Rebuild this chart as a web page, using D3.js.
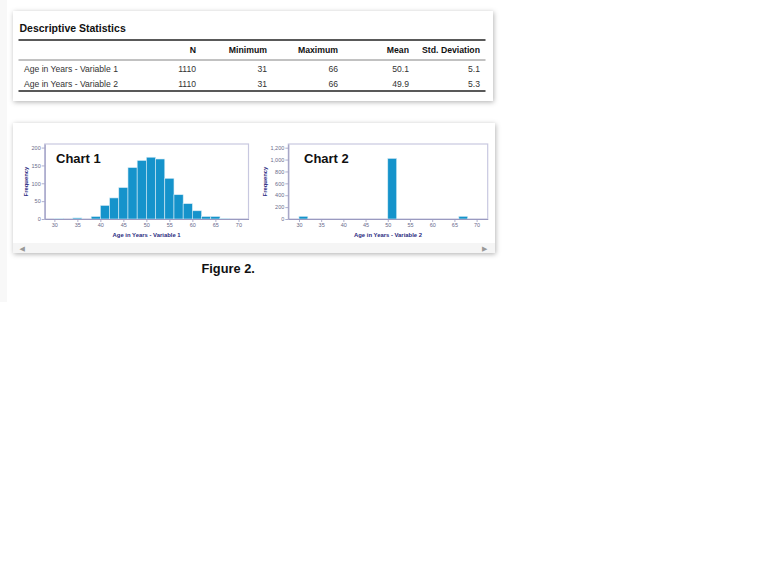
<!DOCTYPE html>
<html><head><meta charset="utf-8">
<script src="https://cdn.jsdelivr.net/npm/d3@7"></script>
<style>
html,body{margin:0;padding:0;background:#fff;}
svg{display:block;font-family:"Liberation Sans",Arial,sans-serif;}
</style></head>
<body>
<svg id="c" width="768" height="561"></svg>
<script>
// ---- Data ----
const tableTitle = "Descriptive Statistics";
const tableColumns = ["N", "Minimum", "Maximum", "Mean", "Std. Deviation"];
const tableRowLabels = ["Age in Years - Variable 1", "Age in Years - Variable 2"];
const tableN = ["1110", "1110"];
const tableMin = ["31", "31"];
const tableMax = ["66", "66"];
const tableMean = ["50.1", "49.9"];
const tableSD = ["5.1", "5.3"];

const binWidth = 2;
const bins1 = [30, 32, 34, 36, 38, 40, 42, 44, 46, 48, 50, 52, 54, 56, 58, 60, 62, 64, 66];
const counts1 = [1, 0, 3, 0, 7, 38, 59, 88, 144, 164, 173, 168, 114, 68, 43, 23, 7, 7, 2];
const bins2 = [30, 50, 66];
const counts2 = [45, 1020, 45];

const xTicks = [30, 35, 40, 45, 50, 55, 60, 65, 70];
const yTicks1 = [0, 50, 100, 150, 200];
const yTicks2 = [0, 200, 400, 600, 800, 1000, 1200];

const chartTitles = ["Chart 1", "Chart 2"];
const xTitles = ["Age in Years - Variable 1", "Age in Years - Variable 2"];
const yTitle = "Frequency";
const figureCaption = "Figure 2.";

// ---- Drawing ----
const svg = d3.select("#c");
const defs = svg.append("defs");
const f = defs.append("filter").attr("id", "sh").attr("x", "-5%").attr("y", "-15%").attr("width", "110%").attr("height", "135%");
f.append("feDropShadow").attr("dx", 0.8).attr("dy", 1.2).attr("stdDeviation", 2.4).attr("flood-color", "#000").attr("flood-opacity", 0.3);

// faint left edge
svg.append("rect").attr("x", 0).attr("y", 0).attr("width", 7).attr("height", 302).attr("fill", "#f8f8f8");

// Table card
svg.append("rect").attr("x", 13).attr("y", 11).attr("width", 480).attr("height", 90)
  .attr("fill", "#fff").attr("filter", "url(#sh)");

svg.append("text").attr("x", 19.5).attr("y", 32).attr("font-size", 10.5).attr("font-weight", "bold")
  .attr("fill", "#111").text(tableTitle);

svg.append("line").attr("x1", 18.5).attr("x2", 485.5).attr("y1", 40).attr("y2", 40).attr("stroke", "#222").attr("stroke-width", 1.4);
svg.append("line").attr("x1", 18.5).attr("x2", 485.5).attr("y1", 60).attr("y2", 60).attr("stroke", "#777").attr("stroke-width", 0.9);
svg.append("line").attr("x1", 18.5).attr("x2", 485.5).attr("y1", 91).attr("y2", 91).attr("stroke", "#222").attr("stroke-width", 1.4);

const colRight = [196, 267, 338, 409, 480];
svg.append("g").selectAll("text").data(tableColumns).join("text")
  .attr("x", (d, i) => colRight[i]).attr("y", 52.5).attr("text-anchor", "end")
  .attr("font-size", 8.7).attr("font-weight", "bold").attr("fill", "#111").text(d => d);

const rowY = [72, 86.5];
const cols = [tableN, tableMin, tableMax, tableMean, tableSD];
tableRowLabels.forEach((lab, r) => {
  svg.append("text").attr("x", 24).attr("y", rowY[r]).attr("font-size", 8.6).attr("fill", "#333").text(lab);
  cols.forEach((c, i) => {
    svg.append("text").attr("x", colRight[i]).attr("y", rowY[r]).attr("text-anchor", "end")
      .attr("font-size", 8.6).attr("fill", "#333").text(c[r]);
  });
});

// Chart card
svg.append("rect").attr("x", 13).attr("y", 123).attr("width", 482).attr("height", 130)
  .attr("fill", "#fff").attr("filter", "url(#sh)");
svg.append("rect").attr("x", 13).attr("y", 243).attr("width", 482).attr("height", 10).attr("fill", "#f5f5f5");
svg.append("text").attr("x", 19.5).attr("y", 251).attr("font-size", 7).attr("fill", "#999").attr("font-family", "DejaVu Sans").text("◀");
svg.append("text").attr("x", 482).attr("y", 251).attr("font-size", 7).attr("fill", "#999").attr("font-family", "DejaVu Sans").text("▶");

function drawHist(cfg) {
  const x = d3.scaleLinear().domain(cfg.xDomain).range([cfg.left, cfg.right]);
  const y = d3.scaleLinear().domain(cfg.yDomain).range([cfg.bottom, cfg.top]);
  const g = svg.append("g");
  // frame
  g.append("rect").attr("x", cfg.left).attr("y", cfg.top).attr("width", cfg.right - cfg.left).attr("height", cfg.bottom - cfg.top)
    .attr("fill", "#fff").attr("stroke", "#c8c8e0").attr("stroke-width", 1.2);
  // bars
  g.append("g").selectAll("rect").data(cfg.bins.map((b, i) => ({ b, c: cfg.counts[i] }))).join("rect")
    .attr("x", d => x(d.b)).attr("width", d => x(d.b + binWidth) - x(d.b))
    .attr("y", d => y(d.c)).attr("height", d => y(0) - y(d.c))
    .attr("fill", "#1593cb").attr("stroke", "#d8ecf6").attr("stroke-width", 0.6);
  // axes
  const xa = g.append("g").attr("transform", `translate(0,${cfg.bottom})`)
    .call(d3.axisBottom(x).tickValues(xTicks).tickSize(3).tickPadding(1.5).tickSizeOuter(0));
  const ya = g.append("g").attr("transform", `translate(${cfg.left},0)`)
    .call(d3.axisLeft(y).tickValues(cfg.yTicks).tickSize(3).tickPadding(1).tickSizeOuter(0).tickFormat(d3.format(",")));
  [xa, ya].forEach(a => {
    a.select(".domain").attr("stroke", "#9a9ac0").attr("stroke-width", 1.1);
    a.selectAll(".tick line").attr("stroke", "#9a9ac0").attr("stroke-width", 0.8);
    a.selectAll(".tick text").attr("fill", "#6a6a8a").attr("font-size", 5.5).attr("font-family", "Liberation Sans, Arial, sans-serif");
  });
  // titles
  g.append("text").attr("x", cfg.titleX).attr("y", 162.5).attr("font-size", 13).attr("font-weight", "bold").attr("fill", "#111").text(cfg.title);
  g.append("text").attr("x", (cfg.left + cfg.right) / 2).attr("y", 237).attr("text-anchor", "middle")
    .attr("font-size", 5.9).attr("font-weight", "bold").attr("fill", "#2a2a80").text(cfg.xTitle);
  g.append("text").attr("transform", `translate(${cfg.yTitleX},${(cfg.top + cfg.bottom) / 2}) rotate(-90)`)
    .attr("text-anchor", "middle").attr("font-size", 5.9).attr("font-weight", "bold").attr("fill", "#2a2a80").text(yTitle);
}

drawHist({ left: 44.7, right: 248.5, top: 144, bottom: 219, xDomain: [27.9, 72.2], yDomain: [0, 210],
  bins: bins1, counts: counts1, yTicks: yTicks1, title: chartTitles[0], titleX: 56, xTitle: xTitles[0], yTitleX: 27.5 });
drawHist({ left: 288.3, right: 487.7, top: 144, bottom: 219, xDomain: [27.6, 72.5], yDomain: [0, 1262],
  bins: bins2, counts: counts2, yTicks: yTicks2, title: chartTitles[1], titleX: 304, xTitle: xTitles[1], yTitleX: 267 });

svg.append("text").attr("x", 201.5).attr("y", 272.5).attr("font-size", 12.8).attr("font-weight", "bold").attr("fill", "#111").text(figureCaption);
</script>
</body></html>
